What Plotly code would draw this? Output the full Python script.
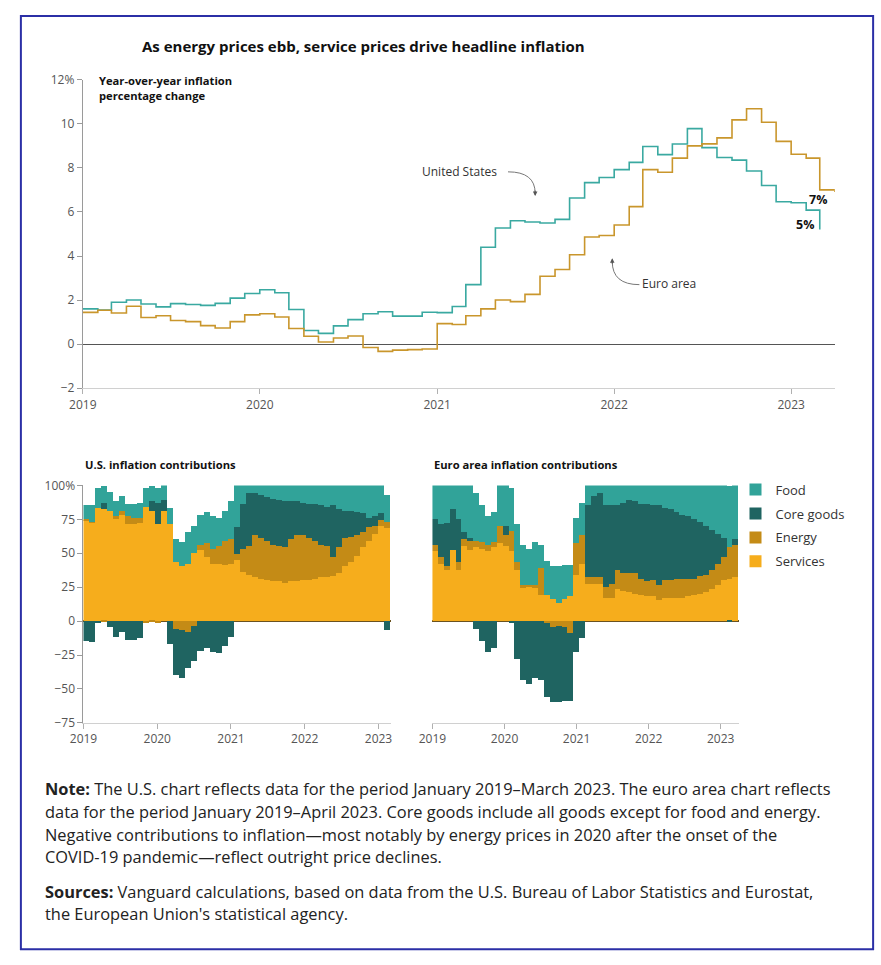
import plotly.graph_objects as go

W, H = 881, 965

# ---------------- data ----------------
us_months = [f"{y}-{m:02d}-01" for y in range(2019, 2024) for m in range(1, 13)][:51]   # Jan 2019 - Mar 2023
ea_months = [f"{y}-{m:02d}-01" for y in range(2019, 2024) for m in range(1, 13)][:52]   # Jan 2019 - Apr 2023

us_cpi = [1.6, 1.55, 1.9, 2.0, 1.82, 1.69, 1.84, 1.8, 1.76, 1.85, 2.09, 2.3,
          2.47, 2.33, 1.57, 0.62, 0.49, 0.83, 1.11, 1.38, 1.47, 1.27, 1.27, 1.45,
          1.43, 1.71, 2.7, 4.4, 5.27, 5.6, 5.54, 5.5, 5.66, 6.63, 7.33, 7.56,
          7.92, 8.25, 8.97, 8.6, 9.08, 9.78, 8.92, 8.47, 8.35, 7.86, 7.2, 6.46,
          6.42, 6.08, 5.2]
ea_cpi = [1.44, 1.54, 1.41, 1.72, 1.21, 1.29, 1.07, 1.02, 0.84, 0.73, 1.02, 1.33,
          1.38, 1.23, 0.71, 0.36, 0.1, 0.28, 0.37, -0.15, -0.33, -0.27, -0.25, -0.22,
          0.93, 0.89, 1.29, 1.6, 2.0, 1.93, 2.26, 3.08, 3.39, 4.06, 4.86, 4.93,
          5.41, 6.24, 7.92, 7.8, 8.44, 9.0, 9.09, 9.36, 10.18, 10.68, 10.07, 9.2,
          8.62, 8.44, 7.0, 6.9]

# U.S. contributions (% share), Jan 2019 - Mar 2023
us_services = [74, 72, 83, 82, 81, 75, 78, 71, 71, 72, 84, 81,
               71, 81, 71, 43, 40, 42, 50, 52, 47, 42, 42, 41,
               42, 45, 36, 34, 32, 31, 30, 29, 29, 28, 29, 29,
               30, 30, 31, 32, 32, 33, 35, 40, 43, 48, 54, 59,
               64, 70, 68]
us_energy = [1, 1, 0, -1, 0, 2, 3, 6, 5, 4, -2, -1,
             -2, 0, 0, -6, -7, -8, -4, 4, 10, 11, 13, 18,
             18, 4, 17, 21, 31, 30, 29, 27, 26, 26, 31, 34,
             33, 31, 28, 24, 23, 14, 19, 21, 19, 15, 11, 10,
             6, 4, 5]
us_core = [-15, -16, -2, 5, -5, -12, -8, -14, -14, -13, 0, 7,
           16, 8, -17, -34, -35, -27, -26, -22, -20, -23, -24, -19,
           -12, 20, 33, 39, 31, 32, 32, 34, 34, 34, 28, 25,
           24, 25, 27, 29, 29, 38, 28, 20, 19, 17, 14, 7,
           7, 5, -7]
us_food = [10, 12, 15, 12, 14, 11, 11, 9, 10, 11, 14, 11,
           11, 11, 12, 17, 18, 23, 20, 22, 23, 24, 21, 22,
           28, 31, 14, 6, 6, 7, 9, 10, 11, 12, 12, 12,
           13, 14, 14, 15, 16, 15, 18, 19, 19, 20, 21, 24,
           23, 21, 20]

# Euro area contributions (% share), Jan 2019 - Apr 2023
ea_services = [51, 42, 37, 52, 37, 55, 52, 54, 53, 51, 54, 57,
               55, 51, 37, 24, 25, 24, 19, 19, 16, 13, 16, 18,
               34, 42, 27, 27, 27, 17, 17, 23, 22, 21, 20, 19,
               18, 18, 15, 17, 17, 17, 17, 18, 19, 20, 21, 23,
               26, 30, 31, 32]
ea_energy = [5, 5, 3, 0, 6, 5, 7, 5, 5, 5, 4, 13,
             8, 15, 6, 2, 1, 2, 20, -2, -5, -4, -5, -9,
             23, 21, 5, 5, 5, 8, 10, 14, 13, 14, 15, 12,
             11, 12, 11, 13, 13, 14, 14, 13, 12, 13, 13, 14,
             16, 17, 23, 24]
ea_core = [19, 24, 32, 30, 32, 5, 2, -6, -15, -23, -20, 0,
           7, -2, -28, -44, -47, -42, -44, -54, -55, -56, -54, -50,
           -23, -13, 53, 60, 62, 60, 58, 48, 52, 54, 53, 55,
           57, 55, 59, 53, 52, 49, 47, 46, 44, 40, 36, 30,
           22, 14, -1, 4]
ea_food = [25, 29, 28, 18, 25, 35, 39, 35, 27, 21, 22, 30,
           30, 32, 28, 30, 27, 32, 17, 25, 24, 27, 25, 23,
           19, 24, 15, 8, 6, 15, 15, 15, 13, 11, 12, 14,
           14, 15, 15, 17, 18, 20, 22, 23, 25, 27, 30, 33,
           36, 39, 45, 40]

years = ["2019", "2020", "2021", "2022", "2023"]
top_yticks = [-2, 0, 2, 4, 6, 8, 10, 12]
top_yticktext = ["\u22122", "0", "2", "4", "6", "8", "10", "12%"]
bar_yticks = [-75, -50, -25, 0, 25, 50, 75, 100]
bar_yticktext = ["\u221275", "\u221250", "\u221225", "0", "25", "50", "75", "100%"]

series_names = ["Services", "Energy", "Core goods", "Food"]
series_colors = ["#f6ad1c", "#c48b16", "#1f6461", "#31a399"]
legend_ranks = [4, 3, 2, 1]
US_COLOR = "#3aa9a1"
EA_COLOR = "#c9962c"

FONT = "Open Sans"
TXT = "#222222"
TICK = "#555555"

def px(x): return x / W
def py(y): return 1 - y / H

fig = go.Figure()

# ---------------- top line chart ----------------
fig.add_trace(go.Scatter(x=us_months, y=us_cpi, mode="lines", line=dict(shape="hv", color=US_COLOR, width=1.6),
                         showlegend=False, xaxis="x", yaxis="y", name="United States"))
fig.add_trace(go.Scatter(x=ea_months, y=ea_cpi, mode="lines", line=dict(shape="hv", color=EA_COLOR, width=1.6),
                         showlegend=False, xaxis="x", yaxis="y", name="Euro area"))

# ---------------- bar charts ----------------
us_vals = [us_services, us_energy, us_core, us_food]
ea_vals = [ea_services, ea_energy, ea_core, ea_food]
nus, nea = len(us_services), len(ea_services)
for name, col, vals in zip(series_names, series_colors, us_vals):
    fig.add_trace(go.Bar(x=list(range(nus)), y=vals, offset=0, width=1, marker=dict(color=col, line=dict(width=0)),
                         name=name, showlegend=False, xaxis="x2", yaxis="y2"))
for name, col, vals, rk in zip(series_names, series_colors, ea_vals, legend_ranks):
    fig.add_trace(go.Bar(x=list(range(nea)), y=vals, offset=0, width=1, marker=dict(color=col, line=dict(width=0)),
                         name=name, showlegend=True, legendgroup=name, legendrank=rk, xaxis="x3", yaxis="y3"))

tickfont = dict(family=FONT, size=12, color=TICK)

def bar_xticks(n):
    return [k * 12 * n / (n - 1) for k in range(5)]

fig.update_layout(
    width=W, height=H,
    margin=dict(l=0, r=0, t=0, b=0),
    paper_bgcolor="white", plot_bgcolor="white",
    barmode="relative", bargap=0,
    font=dict(family=FONT, color=TXT),
    xaxis=dict(domain=[px(70), px(835)], anchor="y", type="date",
               range=["2019-01-01", "2023-04-01"],
               tickvals=[f"{y}-01-01" for y in years], ticktext=years,
               showline=True, linecolor="#d0d0d0", linewidth=1,
               ticks="outside", ticklen=5, tickcolor="#b0b0b0",
               showgrid=False, zeroline=False, tickfont=tickfont),
    yaxis=dict(domain=[py(386), py(72)], anchor="x", range=[-2, 12],
               tickvals=top_yticks, ticktext=top_yticktext,
               showline=True, linecolor="#9a9a9a", linewidth=1,
               ticks="outside", ticklen=5, tickcolor="#9a9a9a",
               showgrid=False, zeroline=True, zerolinecolor="#555555", zerolinewidth=1.3,
               tickfont=tickfont),
    xaxis2=dict(domain=[px(70.7), px(383.3)], anchor="y2", range=[0, nus],
                tickvals=bar_xticks(nus), ticktext=years,
                showline=True, linecolor="#d0d0d0", linewidth=1,
                ticks="outside", ticklen=5, tickcolor="#b0b0b0",
                showgrid=False, zeroline=False, tickfont=tickfont),
    yaxis2=dict(domain=[py(726.7), py(485)], anchor="x2", range=[-75, 100],
                tickvals=bar_yticks, ticktext=bar_yticktext,
                showline=True, linecolor="#9a9a9a", linewidth=1,
                ticks="outside", ticklen=5, tickcolor="#9a9a9a",
                showgrid=False, zeroline=True, zerolinecolor="#6a5220", zerolinewidth=1.5,
                tickfont=tickfont),
    xaxis3=dict(domain=[px(425.7), px(737.3)], anchor="y3", range=[0, nea],
                tickvals=bar_xticks(nea), ticktext=years,
                showline=True, linecolor="#d0d0d0", linewidth=1,
                ticks="outside", ticklen=5, tickcolor="#b0b0b0",
                showgrid=False, zeroline=False, tickfont=tickfont),
    yaxis3=dict(domain=[py(726.7), py(485)], anchor="x3", range=[-75, 100],
                showline=False, showticklabels=False, ticks="",
                showgrid=False, zeroline=True, zerolinecolor="#6a5220", zerolinewidth=1.5),
    legend=dict(x=px(734), y=py(474), xanchor="left", yanchor="top",
                traceorder="grouped", tracegroupgap=4,
                font=dict(family=FONT, size=13, color="#333333"),
                bgcolor="rgba(0,0,0,0)", itemwidth=30),
)

# ---------------- annotations ----------------
ann = []
ann.append(dict(text="<b>As energy prices ebb, service prices drive headline inflation</b>",
                x=px(128), y=py(38), xref="paper", yref="paper", xanchor="left", yanchor="middle",
                showarrow=False, font=dict(family=FONT, size=15, color="#111111")))
ann.append(dict(text="<b>Year-over-year inflation<br>percentage change</b>",
                x=px(84), y=py(63), xref="paper", yref="paper", xanchor="left", yanchor="top", align="left",
                showarrow=False, font=dict(family=FONT, size=11.2, color="#111111")))
ann.append(dict(text="United States", x="2021-02-16", y=7.82, xref="x", yref="y", showarrow=False,
                font=dict(family=FONT, size=12, color="#333333")))
ann.append(dict(text="Euro area", x="2022-04-25", y=2.73, xref="x", yref="y", showarrow=False,
                font=dict(family=FONT, size=12, color="#333333")))
ann.append(dict(text="<b>7%</b>", x="2023-02-26", y=6.57, xref="x", yref="y", showarrow=False,
                font=dict(family=FONT, size=12.5, color="#111111")))
ann.append(dict(text="<b>5%</b>", x="2023-01-30", y=5.41, xref="x", yref="y", showarrow=False,
                font=dict(family=FONT, size=12.5, color="#111111")))
# arrowheads
ann.append(dict(text="", x="2021-07-22", y=6.72, xref="x", yref="y", showarrow=True, arrowhead=2,
                arrowsize=0.9, arrowwidth=1, arrowcolor="#555555", ax=0, ay=-7))
ann.append(dict(text="", x="2021-12-28", y=3.9, xref="x", yref="y", showarrow=True, arrowhead=2,
                arrowsize=0.9, arrowwidth=1, arrowcolor="#555555", ax=0, ay=7))
# sub-titles
ann.append(dict(text="<b>U.S. inflation contributions</b>", x=px(70), y=py(464), xref="paper", yref="paper",
                xanchor="left", yanchor="middle", showarrow=False, font=dict(family=FONT, size=11.2, color="#111111")))
ann.append(dict(text="<b>Euro area inflation contributions</b>", x=px(425), y=py(464), xref="paper", yref="paper",
                xanchor="left", yanchor="middle", showarrow=False, font=dict(family=FONT, size=11.2, color="#111111")))
# notes
note_lines = [
    (793, "<b>Note:</b> The U.S. chart reflects data for the period January 2019\u2013March 2023. The euro area chart reflects"),
    (817, "data for the period January 2019\u2013April 2023. Core goods include all goods except for food and energy."),
    (840, "Negative contributions to inflation\u2014most notably by energy prices in 2020 after the onset of the"),
    (863, "COVID-19 pandemic\u2014reflect outright price declines."),
    (898, "<b>Sources:</b> Vanguard calculations, based on data from the U.S. Bureau of Labor Statistics and Eurostat,"),
    (921, "the European Union's statistical agency."),
]
for yy, t in note_lines:
    ann.append(dict(text=t, x=px(29), y=py(yy), xref="paper", yref="paper", xanchor="left", yanchor="middle",
                    showarrow=False, font=dict(family=FONT, size=16.4, color=TXT)))
fig.update_layout(annotations=ann)

# ---------------- shapes ----------------
shapes = [
    dict(type="path", xref="x", yref="y", path="M 2021-05-27,7.82 Q 2021-07-22,7.82 2021-07-22,6.85",
         line=dict(color="#777777", width=1)),
    dict(type="path", xref="x", yref="y", path="M 2022-02-22,2.7 Q 2021-12-28,2.7 2021-12-28,3.75",
         line=dict(color="#777777", width=1)),
    dict(type="rect", xref="paper", yref="paper", x0=px(7), x1=px(874), y0=py(957), y1=py(7),
         line=dict(color="#2b2fa6", width=2), fillcolor="rgba(0,0,0,0)", layer="above"),
]
fig.update_layout(shapes=shapes)

fig.write_html("out.html", config={"displayModeBar": False},
               post_script="document.body.style.margin='0';document.body.style.overflow='hidden';")
